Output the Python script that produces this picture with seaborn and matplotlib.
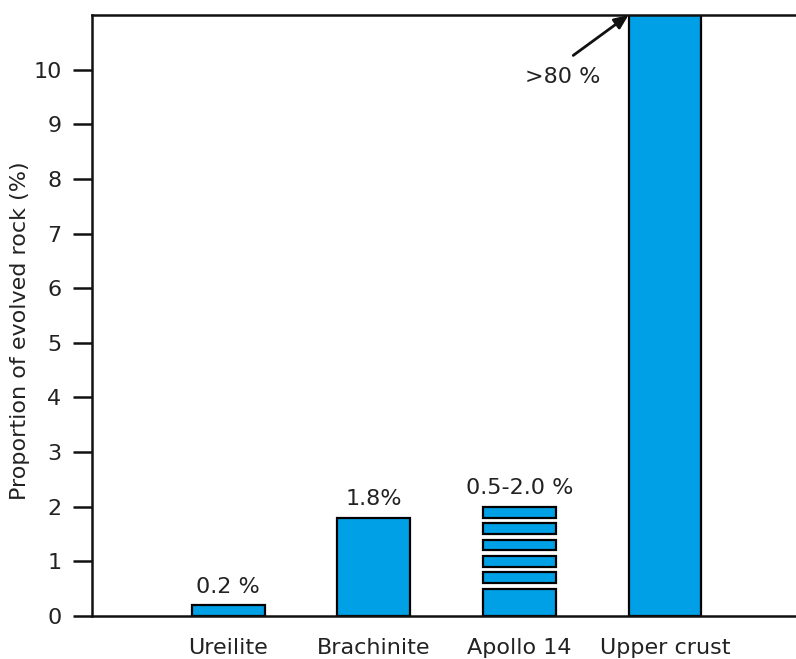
import matplotlib
matplotlib.use("Agg")
import matplotlib.pyplot as plt
import seaborn as sns
import pandas as pd

# Rock types and their proportion of evolved rock (%)
categories = ["Ureilite", "Brachinite", "Apollo 14", "Upper crust"]
values = [0.2, 1.8, 0.5, 80.0]
value_labels = ["0.2 %", "1.8%", "0.5-2.0 %", ">80 %"]

# Apollo 14 range drawn as stacked stripes above the base segment
stripe_low = [0.6, 0.9, 1.2, 1.5, 1.8]
stripe_high = [0.8, 1.1, 1.4, 1.7, 2.0]

y_ticks = list(range(0, 11))

bar_color = "#00A0E6"
text_color = "#222222"
fs = 16

sns.set_theme(style="white")
plt.rcParams["font.family"] = ["DejaVu Sans"]

fig = plt.figure(figsize=(7.96, 6.59), dpi=100)
ax = fig.add_axes([92 / 796, 1 - 616 / 659, 1 - 92 / 796, (616 - 15) / 659])

df = pd.DataFrame({"rock": categories, "value": values})
sns.barplot(data=df, x="rock", y="value", order=categories, color=bar_color,
            saturation=1, width=0.5, edgecolor="black", linewidth=1.6, ax=ax)

apollo_pos = categories.index("Apollo 14")
ax.bar([apollo_pos] * len(stripe_low),
       [h - l for l, h in zip(stripe_low, stripe_high)],
       bottom=stripe_low, width=0.5, color=bar_color,
       edgecolor="black", linewidth=1.6)

ax.set_ylim(0, 11)
ax.set_xlim(-0.935, 3.9)
ax.set_yticks(y_ticks)
ax.set_yticklabels([str(t) for t in y_ticks])

# Value labels above the bars
label_tops = [0.2, 1.8, 2.0]
for i, (top, txt) in enumerate(zip(label_tops, value_labels[:3])):
    ax.annotate(txt, xy=(i, top), xytext=(0, 9), textcoords="offset points",
                ha="center", va="baseline", fontsize=fs, color=text_color)

# Off-scale upper crust value with arrow pointing to the clipped bar
ax.text(2.296, 9.76, value_labels[3], ha="center", va="baseline",
        fontsize=fs, color=text_color)
ax.annotate("", xy=(2.75, 11), xytext=(2.37, 10.26),
            arrowprops=dict(arrowstyle="-|>,head_length=0.7,head_width=0.3",
                            lw=2, color="#111111", shrinkA=0, shrinkB=0),
            annotation_clip=False)

ax.set_xlabel("")
ax.set_ylabel("Proportion of evolved rock (%)", fontsize=fs, color=text_color)
ax.yaxis.set_label_coords(-0.088, 0.474)

for side in ["left", "bottom", "top"]:
    ax.spines[side].set_visible(True)
    ax.spines[side].set_color("#111111")
    ax.spines[side].set_linewidth(1.8)
ax.spines["right"].set_visible(False)

ax.tick_params(axis="y", direction="out", length=14, width=1.8, color="#111111",
               pad=8, labelsize=fs, labelcolor=text_color, left=True)
ax.tick_params(axis="x", length=0, pad=16, labelsize=fs, labelcolor=text_color)

fig.savefig("out.png", dpi=100)
